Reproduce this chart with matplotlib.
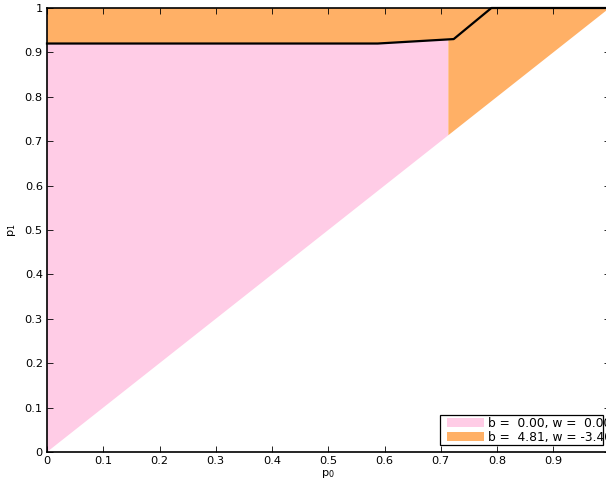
import matplotlib
matplotlib.use("Agg")
import matplotlib.pyplot as plt
from matplotlib.patches import Polygon, Patch, Rectangle
from matplotlib.legend_handler import HandlerPatch

plt.rcParams['font.family'] = ['DejaVu Sans']
plt.rcParams['mathtext.fontset'] = 'dejavusans'

# Data
boundary_x = [0.0, 0.588, 0.723, 0.790, 1.0]
boundary_y = [0.92, 0.92, 0.93, 1.0, 1.0]
split_x = 0.7135
split_top = 0.928
labels = ["b =  0.00, w =  0.00", "b =  4.81, w = -3.40"]
colors = ["#FFCCE6", "#FFB066"]
xticks = [0, 0.1, 0.2, 0.3, 0.4, 0.5, 0.6, 0.7, 0.8, 0.9, 1.0]
xticklabels = ["0", "0.1", "0.2", "0.3", "0.4", "0.5", "0.6", "0.7", "0.8", "0.9", ""]
yticks = [0, 0.1, 0.2, 0.3, 0.4, 0.5, 0.6, 0.7, 0.8, 0.9, 1.0]
yticklabels = ["0", "0.1", "0.2", "0.3", "0.4", "0.5", "0.6", "0.7", "0.8", "0.9", "1"]

W, H = 606, 483
fig = plt.figure(figsize=(W / 100, H / 100), dpi=100)
left, right, top, bottom = 47, 609.5, 8, 452
ax = fig.add_axes([left / W, (H - bottom) / H, (right - left) / W, (bottom - top) / H])

pink = [(0, 0), (boundary_x[0], boundary_y[0]), (boundary_x[1], boundary_y[1]),
        (split_x, split_top), (split_x, split_x)]
orange = [(boundary_x[0], boundary_y[0]), (0, 1), (1, 1), (split_x, split_x),
          (split_x, split_top), (boundary_x[1], boundary_y[1])]
ax.add_patch(Polygon(pink, closed=True, facecolor=colors[0], edgecolor='none'))
ax.add_patch(Polygon(orange, closed=True, facecolor=colors[1], edgecolor='none'))
ax.plot(boundary_x, boundary_y, color='black', lw=1.6, clip_on=False, zorder=5)

fs = 8.2
ax.set_xlim(0, 1)
ax.set_ylim(0, 1)
ax.set_xticks(xticks)
ax.set_yticks(yticks)
ax.set_xticklabels(xticklabels, fontsize=fs)
ax.set_yticklabels(yticklabels, fontsize=fs)
ax.tick_params(direction='in', top=True, right=True, length=4, width=0.6, pad=3)
for s in ax.spines.values():
    s.set_linewidth(1.2)
ax.set_xlabel("p$_0$", fontsize=fs, labelpad=1)
ax.set_ylabel("p$_1$", fontsize=fs, labelpad=5)


def shifted_patch(legend, orig_handle, xdescent, ydescent, width, height, fontsize):
    shift = 6 * 72 / 100.0  # points
    return Rectangle((-xdescent + shift, -ydescent), width - shift, height)


handles = [Patch(facecolor=c, edgecolor='none') for c in colors]
x0 = (440 - left) / (right - left)
x1 = (603 - left) / (right - left)
y0 = (bottom - 445) / (bottom - top)
y1 = (bottom - 414.7) / (bottom - top)
leg = ax.legend(handles, labels, loc='lower left', mode='expand',
                bbox_to_anchor=(x0, y0, x1 - x0, y1 - y0),
                borderaxespad=0, fontsize=8.8, handlelength=3.5, handleheight=0.7,
                handletextpad=0.3, labelspacing=0.1, borderpad=0.1,
                fancybox=False, framealpha=1, edgecolor='black',
                handler_map={Patch: HandlerPatch(patch_func=shifted_patch)})
leg.get_frame().set_linewidth(0.9)

fig.savefig("out.png", dpi=100)
